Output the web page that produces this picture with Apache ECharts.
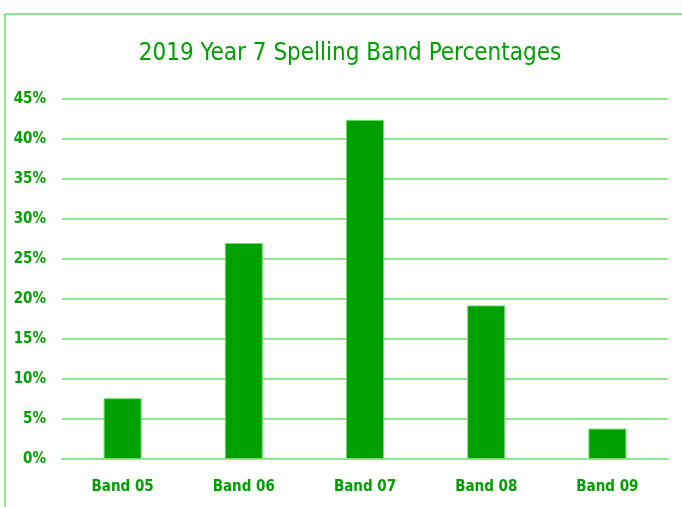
<!DOCTYPE html>
<html>
<head>
<meta charset="utf-8">
<script src="https://cdn.jsdelivr.net/npm/echarts@6/dist/echarts.min.js"></script>
<style>
html,body{margin:0;padding:0;background:#fff;}
#frame{position:absolute;left:4px;top:13px;width:700px;height:520px;border:2px solid #8fe68f;box-sizing:border-box;}
#chart{position:absolute;left:0;top:0;width:682px;height:507px;}
</style>
</head>
<body>
<div id="frame"></div>
<div id="chart"></div>
<script>
// Year 7 spelling results by band
const categories = ['Band 05', 'Band 06', 'Band 07', 'Band 08', 'Band 09'];
const percentages = [7.6, 27.0, 42.4, 19.2, 3.8];
const yTicks = { min: 0, max: 45, interval: 5 };

const green = '#00a000';
const font = '"Liberation Sans Narrow", "DejaVu Sans Condensed", "Liberation Sans", sans-serif';

const chart = echarts.init(document.getElementById('chart'), null, { renderer: 'canvas' });
chart.setOption({
  animation: false,
  title: {
    text: '2019 Year 7 Spelling Band Percentages',
    left: 345, top: 37, textAlign: 'center',
    textStyle: { color: green, fontFamily: font, fontSize: 24, fontWeight: 'normal' }
  },
  grid: { left: 62, right: 14, top: 99, bottom: 48, containLabel: false },
  xAxis: {
    type: 'category',
    data: categories,
    axisLine: { show: true, lineStyle: { color: '#8fe68f', width: 2 } },
    axisTick: { show: false },
    axisLabel: { color: green, fontFamily: font, fontSize: 15, fontWeight: 'bold', margin: 21 }
  },
  yAxis: {
    type: 'value',
    min: yTicks.min, max: yTicks.max, interval: yTicks.interval,
    axisLine: { show: false },
    axisTick: { show: false },
    axisLabel: { color: green, fontFamily: font, fontSize: 15, fontWeight: 'bold', margin: 16, formatter: '{value}%' },
    splitLine: { lineStyle: { color: '#8fe68f', width: 2 } }
  },
  series: [{
    type: 'bar',
    data: percentages,
    barWidth: 38,
    itemStyle: { color: green, borderColor: '#6ee06e', borderWidth: 1 }
  }]
});
</script>
</body>
</html>
